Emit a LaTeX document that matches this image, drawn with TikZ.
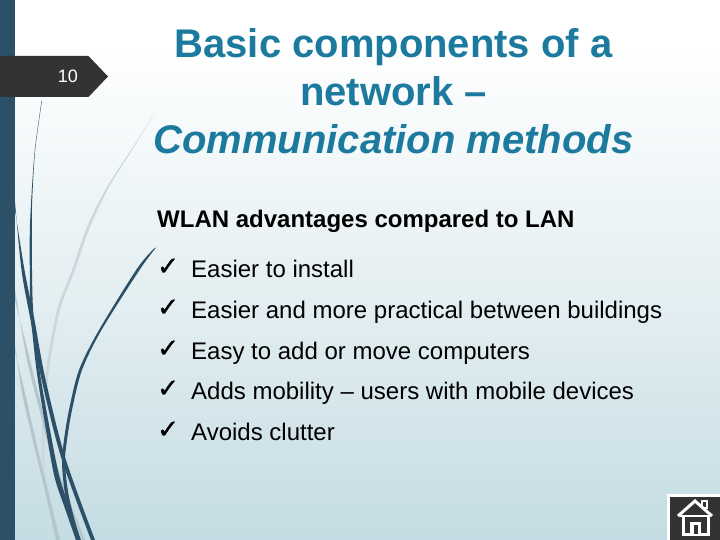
\documentclass[tikz,border=0pt]{standalone}
\usepackage{fontspec}
\setmainfont{Liberation Sans}
\newfontfamily\symfont[FakeBold=1.2]{DejaVu Sans}
\definecolor{barblue}{HTML}{2C5068}
\definecolor{titleblue}{HTML}{1C7A9E}
\definecolor{tagdark}{HTML}{333333}
\definecolor{wispgray}{HTML}{B4C6CC}
\definecolor{wispfaint}{HTML}{CDD8DC}
\definecolor{bgbottom}{HTML}{C4DCE3}
\tikzset{
  titletext/.style={font=\fontsize{40}{48}\selectfont\bfseries, text=titleblue, align=center, inner sep=0pt},
  headtext/.style={font=\fontsize{24}{24}\selectfont\bfseries, anchor=base west, inner sep=0pt, text=black},
  itemtext/.style={font=\fontsize{24}{24}\selectfont, anchor=base west, inner sep=0pt, text=black},
  checktext/.style={font=\symfont\fontsize{26}{26}\selectfont, anchor=base west, inner sep=0pt, text=black},
  wispdark/.style={fill=barblue, draw=none},
  wisplight/.style={fill=wispgray, draw=none},
}
\begin{document}
\begin{tikzpicture}[x=1pt,y=-1pt]
\useasboundingbox (0,0) rectangle (720,540);
\shade[top color=white, bottom color=bgbottom, middle color=white!55!bgbottom, shading angle=0] (0,40) rectangle (720,540);
\fill[white] (0,0) rectangle (720,40);
\fill[barblue] (0,0) rectangle (15,540);
% light wisps
\fill[wispfaint] plot[smooth] coordinates {(155.7,111) (133,147) (107,187) (87,227) (72,270) (57,310) (46,370) (42,430) (42,463) (47,500) (56,540)}
  -- plot[smooth] coordinates {(60,540) (50,500) (45,463) (45,430) (49,370) (60,310) (75,270) (90,227) (109,187) (134,147) (155.7,111)} -- cycle;
\fill[wisplight] plot[smooth] coordinates {(15,290) (27,360) (42,420) (52,460) (70,510) (82,540)}
  -- plot[smooth] coordinates {(85,540) (73,510) (55,460) (45,420) (30,360) (15,300)} -- cycle;
\fill[wisplight] plot[smooth] coordinates {(15,345) (22,393) (32,437) (44,487) (56,540)}
  -- plot[smooth] coordinates {(60,540) (47,487) (35,437) (25,393) (15,352)} -- cycle;
% dark wisps
\fill[wispdark] plot[smooth] coordinates {(41.5,101) (34.8,150) (31.2,200) (29.8,233) (29.8,270) (30.7,313) (36.5,370) (46,430) (54.5,477) (65.5,510) (76,540)}
  -- plot[smooth] coordinates {(81,540) (70.5,510) (59.5,477) (50,430) (39.5,370) (33.3,313) (32,270) (31.8,233) (32.2,200) (35.2,150) (41.9,101)} -- cycle;
\fill[wispdark] plot[smooth] coordinates {(15,202) (21.5,270) (30.5,320) (41,377) (61,457) (91,540)}
  -- plot[smooth] coordinates {(95,540) (65,457) (45,377) (34.5,320) (24.5,270) (15,210)} -- cycle;
\fill[wispdark] plot[smooth] coordinates {(155.3,247.5) (137.5,268) (99,330) (79,370) (69,410) (64,440) (62,463) (65.5,497) (76,540)}
  -- plot[smooth] coordinates {(80,540) (69,497) (65,463) (67,440) (72,410) (82,370) (101.5,330) (139.5,270) (155.7,248)} -- cycle;
% slide number tag
\fill[tagdark] (0,56) -- (88.5,56) -- (108,76.5) -- (88.5,97) -- (0,97) -- cycle;
\node[font=\fontsize{18}{18}\selectfont, text=white, inner sep=0pt] (num) at (68,76.5) {10};
% title
\node[titletext] (title) at (393.5,91) {Basic components of a\\ network --\\ \textit{Communication methods}};
% heading
\node[headtext] (head) at (157,228) {WLAN advantages compared to LAN};
% items
\node[checktext] (c1) at (157,275) {✓};
\node[itemtext] (i1) at (191,277) {Easier to install};
\node[checktext] (c2) at (157,316) {✓};
\node[itemtext] (i2) at (191,318) {Easier and more practical between buildings};
\node[checktext] (c3) at (157,357) {✓};
\node[itemtext] (i3) at (191,359) {Easy to add or move computers};
\node[checktext] (c4) at (157,397) {✓};
\node[itemtext] (i4) at (191,399) {Adds mobility -- users with mobile devices};
\node[checktext] (c5) at (157,438) {✓};
\node[itemtext] (i5) at (191,440) {Avoids clutter};
% home button
\fill[white] (667,493.5) rectangle (720,540);
\fill[tagdark] (670,496.5) rectangle (720,540);
\fill[white] (701,500) rectangle (708,509);
\fill[tagdark] (703,502) rectangle (706,507);
\draw[white, line width=3pt, line join=miter, fill=tagdark] (678,516) -- (695,501) -- (712,516);
\draw[white, line width=2pt] (680,516) -- (710,516);
\draw[white, line width=3pt] (683,516) -- (683,534) -- (708,534) -- (708,516);
\fill[white] (690,522) rectangle (701,534);
\fill[tagdark] (693.5,525) rectangle (697.5,534);
\end{tikzpicture}
\end{document}
